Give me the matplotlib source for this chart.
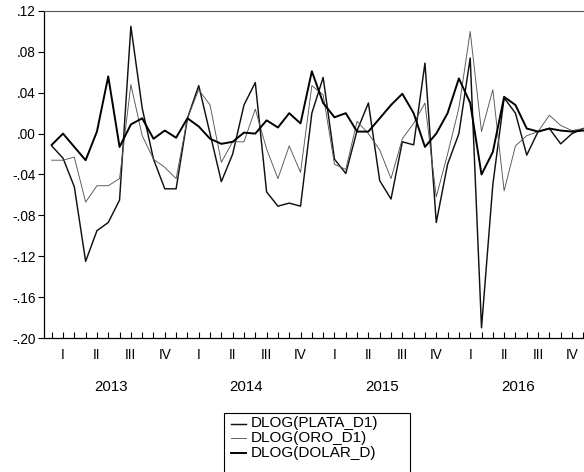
import matplotlib.pyplot as plt
from matplotlib.lines import Line2D
from matplotlib.patches import Rectangle
from matplotlib.transforms import blended_transform_factory
import numpy as np

plt.rcParams['font.family'] = ['Liberation Sans', 'DejaVu Sans']

# ==========================================
# data: monthly, 2013M01 - 2016M12
# ==========================================
years = ['2013', '2014', '2015', '2016']
quarters = ['I', 'II', 'III', 'IV']

plata = [-.012, -.024, -.052, -.125, -.095, -.087, -.065, .105, .025, -.025,
         -.054, -.054, .015, .047, .000, -.047, -.020, .028, .050, -.057,
         -.071, -.068, -.071, .020, .055, -.025, -.039, .003, .030, -.046,
         -.064, -.008, -.011, .069, -.087, -.030, .000, .074, -.190, -.050,
         .035, .020, -.021, .002, .005, -.010, .000, .005]

oro = [-.026, -.026, -.023, -.067, -.051, -.051, -.044, .048, -.002, -.025,
       -.033, -.044, .015, .043, .028, -.028, -.008, -.008, .024, -.015,
       -.044, -.012, -.038, .047, .038, -.030, -.035, .012, .000, -.016,
       -.044, -.005, .010, .030, -.062, -.020, .025, .100, .002, .043,
       -.056, -.012, -.002, .002, .018, .008, .003, .005]

dolar = [-.011, .000, -.013, -.026, .002, .056, -.013, .009, .015, -.005,
         .003, -.004, .015, .007, -.005, -.010, -.008, .001, .000, .013,
         .006, .020, .010, .061, .030, .016, .020, .002, .002, .015,
         .028, .039, .020, -.013, .000, .020, .054, .030, -.040, -.018,
         .036, .028, .005, .002, .005, .003, .002, .003]

series_names = ['DLOG(PLATA_D1)', 'DLOG(ORO_D1)', 'DLOG(DOLAR_D)']

# ==========================================
# figure
# ==========================================
W, H = 584, 472
fig = plt.figure(figsize=(W / 100, H / 100), dpi=100)

# plot frame in pixels (right edge runs past the picture, as in the scan)
left, top, bottom, right = 44, 11, 338, 591
ax = fig.add_axes([left / W, 1 - bottom / H, (right - left) / W, (bottom - top) / H])

x = np.arange(len(plata))
styles = [dict(color='#111111', lw=1.05),
          dict(color='#555555', lw=0.65),
          dict(color='#000000', lw=1.4)]
for vals, st in zip([plata, oro, dolar], styles):
    ax.plot(x, vals, **st)

ax.set_xlim(-0.68, 47.68)
ax.set_ylim(-0.20, 0.12)

yt = np.arange(-0.20, 0.121, 0.04)
ax.set_yticks(yt)
ax.set_yticklabels([('%.2f' % v).replace('0.', '.') for v in yt], fontsize=9.8)
ax.tick_params(axis='y', direction='out', length=4, width=0.8, pad=2)

# quarter labels at middle month of each quarter, ticks at every month
ax.set_xticks(np.arange(1, 48, 3))
ax.set_xticklabels(quarters * len(years), fontsize=9.8)
ax.set_xticks(x, minor=True)
ax.tick_params(axis='x', which='both', direction='in', length=4, width=0.8, pad=7)

trans = blended_transform_factory(ax.transData, ax.transAxes)
for k, yr in enumerate(years):
    ax.text(5.2 + 12 * k, -0.151, yr, transform=trans, ha='center', va='center',
            fontsize=10.8)

for s in ['left', 'bottom']:
    ax.spines[s].set_linewidth(0.9)
ax.spines['top'].set_linewidth(0.8)
ax.spines['top'].set_color('#555555')
ax.spines['right'].set_visible(False)

# legend box (bottom edge falls outside the picture)
fig.add_artist(Rectangle((224 / W, 1 - 480 / H), (410 - 224) / W, (480 - 413) / H,
                         transform=fig.transFigure, fill=False, lw=0.8,
                         edgecolor='black'))
for k, (name, st) in enumerate(zip(series_names, styles)):
    yy = 1 - (423.5 + 14.5 * k) / H
    fig.add_artist(Line2D([231 / W, 246 / W], [yy, yy], transform=fig.transFigure, **st))
    fig.text(251 / W, yy, name, ha='left', va='center', fontsize=11)

plt.savefig('out.png', dpi=100)
